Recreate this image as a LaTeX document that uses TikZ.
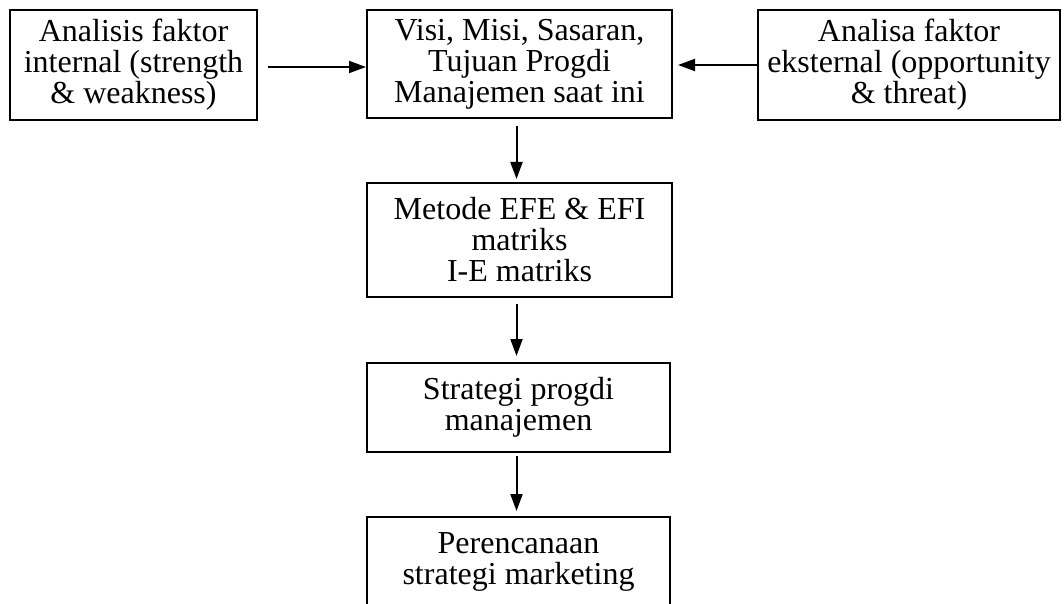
\documentclass[tikz,border=0pt]{standalone}
\usepackage{fontspec}
\setmainfont{Liberation Serif}
\usetikzlibrary{arrows.meta}
\begin{document}
\begin{tikzpicture}[x=1pt,y=-1pt,
  box/.style={draw,line width=2pt,rectangle,inner sep=0pt,align=center,
    font=\fontsize{32}{31}\selectfont},
  arr/.style={line width=2pt,-{Triangle[length=17pt,width=12pt]}}]
\useasboundingbox (0,0) rectangle (1064,604);
\clip (0,0) rectangle (1064,604);
\fill[white] (0,0) rectangle (1064,604);
\node[box,minimum width=247pt,minimum height=110pt] (b1) at (133.5,65) {Analisis faktor\\internal (strength\\\& weakness)};
\node[box,minimum width=305pt,minimum height=108pt] (b2) at (519.5,64) {Visi, Misi, Sasaran,\\Tujuan Progdi\\Manajemen saat ini};
\node[box,minimum width=302pt,minimum height=110pt] (b3) at (909,65) {Analisa faktor\\eksternal (opportunity\\\& threat)};
\node[box,minimum width=305pt,minimum height=114pt] (b4) at (519.5,240) {Metode EFE \& EFI\\matriks\\I-E matriks};
\node[box,minimum width=303pt,minimum height=89pt] (b5) at (518.5,407.5) {Strategi progdi\\manajemen};
\node[box,minimum width=303pt,minimum height=89pt] (b6) at (518.5,561.5) {Perencanaan\\strategi marketing};
\draw[arr,shorten <=10pt] ([yshift=-2pt]b1.east) -- ([yshift=-3pt]b2.west);
\draw[arr,shorten >=5pt] (b3.west) -- ([yshift=-1pt]b2.east);
\draw[arr,shorten <=7pt,shorten >=3pt] ([xshift=-3pt]b2.south) -- ([xshift=-3pt]b4.north);
\draw[arr,shorten <=6pt,shorten >=6pt] ([xshift=-3pt]b4.south) -- ([xshift=-2pt]b5.north);
\draw[arr,shorten <=3pt,shorten >=5pt] ([xshift=-2pt]b5.south) -- ([xshift=-2pt]b6.north);
\end{tikzpicture}
\end{document}
